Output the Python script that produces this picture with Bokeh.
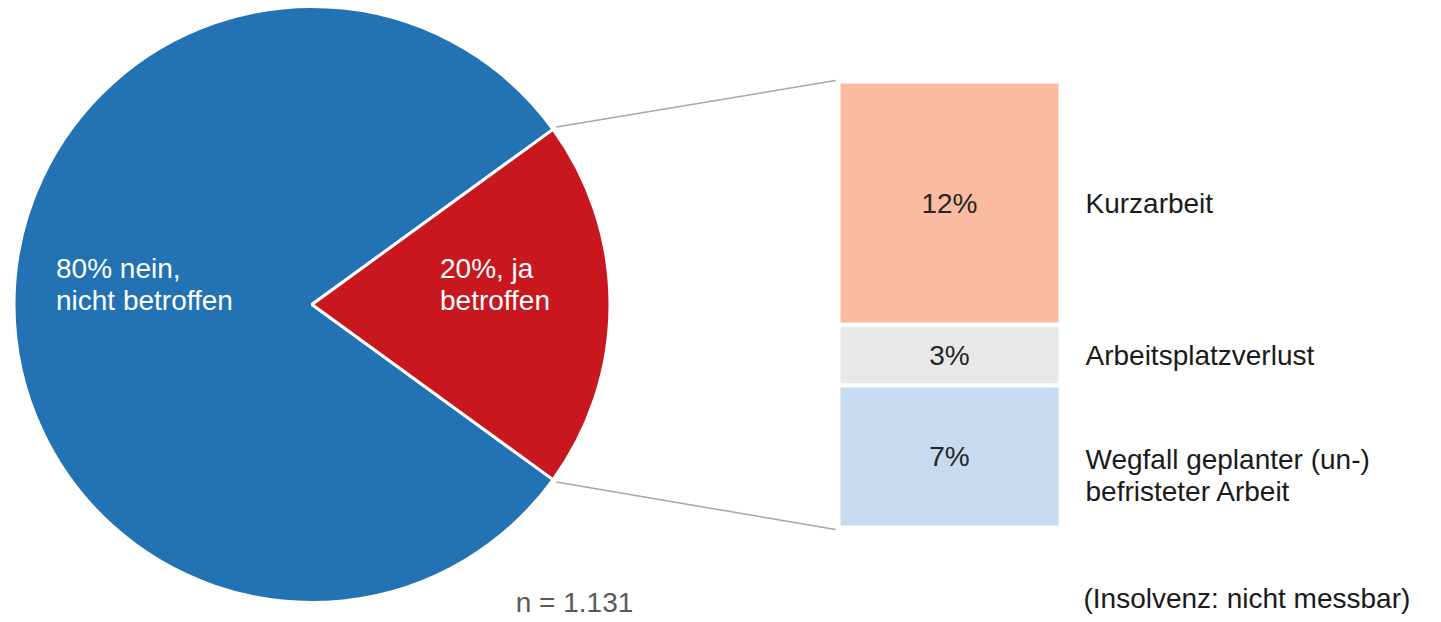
import math
from bokeh.plotting import figure
from bokeh.models import Range1d, ColumnDataSource
from bokeh.core.properties import value
from bokeh.embed import file_html
from bokeh.resources import INLINE

# ---- data ----
pie_labels = ["80% nein,\nnicht betroffen", "20%, ja\nbetroffen"]
pie_values = [80, 20]
pie_colors = ["#2272B4", "#C8171E"]

bar_categories = ["Kurzarbeit", "Arbeitsplatzverlust", "Wegfall geplanter (un-)\nbefristeter Arbeit"]
bar_values = [12, 3, 7]
bar_colors = ["#FBBBA0", "#E8E8E8", "#C6DBEF"]

sample_note = "n = 1.131"
footnote = "(Insolvenz: nicht messbar)"

FONT = value("Liberation Sans")
FS = "28px"

W, H = 1436, 620
TOP = 622
p = figure(width=W, height=H, output_backend="svg", toolbar_location=None,
           x_range=Range1d(0, W), y_range=Range1d(TOP - H, TOP),
           min_border=0, min_border_left=0, min_border_right=0,
           min_border_top=0, min_border_bottom=0)
p.axis.visible = False
p.grid.visible = False
p.outline_line_color = None
p.background_fill_color = "white"

# ---- pie ----
cx, cy, r = 311.5, 318.0, 298.0
total = sum(pie_values)
ja_half = math.pi * pie_values[1] / total
starts = [ja_half, -ja_half]
ends = [2 * math.pi - ja_half, ja_half]
p.wedge(x=cx, y=cy, radius=r, start_angle=starts, end_angle=ends,
        fill_color=pie_colors, line_color="white", line_width=3)

# pie labels
p.text(x=[cx - 256, cx + 128], y=[cy + 20, cy + 20], text=pie_labels,
       text_color="white", text_font=FONT, text_font_size=FS,
       text_align="left", text_baseline="middle", text_line_height=1.05)

# ---- stacked bar ----
bar_left, bar_right = 838, 1060
bar_top = 541.0
bar_bottom = 95.0
scale = (bar_top - bar_bottom) / sum(bar_values)
tops, bottoms = [], []
cur = bar_top
for v in bar_values:
    tops.append(cur)
    cur -= v * scale
    bottoms.append(cur)
mids = [(t + b) / 2 for t, b in zip(tops, bottoms)]
label_y = [m - 19 * c.count("\n") for m, c in zip(mids, bar_categories)]
src = ColumnDataSource(dict(top=tops, bottom=bottoms, color=bar_colors,
                            mid=mids, label_y=label_y,
                            pct=[f"{v}%" for v in bar_values],
                            cat=bar_categories))
p.quad(left=bar_left, right=bar_right, top="top", bottom="bottom",
       fill_color="color", line_color="white", line_width=4, source=src)
p.text(x=(bar_left + bar_right) / 2, y="mid", text="pct", source=src,
       text_color="#262626", text_font=FONT, text_font_size=FS,
       text_align="center", text_baseline="middle")
p.text(x=1085, y="label_y", text="cat", source=src,
       text_color="#1a1a1a", text_font=FONT, text_font_size=FS,
       text_align="left", text_baseline="middle", text_line_height=1.05)

# ---- connector lines ----
rr = r + 4
for ang, by in [(ja_half, bar_top), (-ja_half, bar_bottom)]:
    p.line(x=[cx + rr * math.cos(ang), bar_left - 3],
           y=[cy + rr * math.sin(ang), by + (1 if by > cy else -2)],
           line_color="#A6A6A6", line_width=1.5)

# ---- notes ----
p.text(x=[574], y=[622 - 602], text=[sample_note], text_color="#595959",
       text_font=FONT, text_font_size=FS, text_align="center", text_baseline="middle")
p.text(x=[1083], y=[622 - 598], text=[footnote], text_color="#1a1a1a",
       text_font=FONT, text_font_size=FS, text_align="left", text_baseline="middle")

open("out.html", "w").write(file_html(p, INLINE))
